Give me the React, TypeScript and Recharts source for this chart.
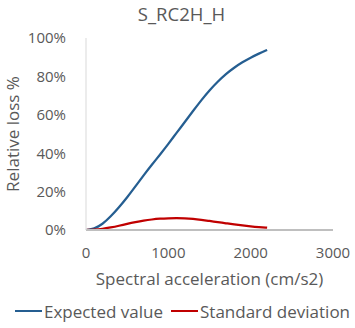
import { Label, Legend, Line, LineChart, XAxis, YAxis } from "recharts";

const accel = [
  0, 100, 200, 300, 400, 500, 600, 700, 800, 900, 1000, 1100, 1200, 1300, 1400,
  1500, 1600, 1700, 1800, 1900, 2000, 2100, 2200,
];
// relative loss in %
const expectedValue = [
  0, 0.6, 3.0, 7.0, 11.8, 17.0, 22.7, 28.5, 34.0, 39.3, 44.8, 50.6, 56.2, 62.0,
  67.6, 72.8, 77.3, 81.3, 84.6, 87.4, 89.8, 91.9, 93.8,
];
const standardDeviation = [
  0, 0.1, 0.5, 1.3, 2.2, 3.2, 4.1, 4.9, 5.5, 5.9, 6.1, 6.2, 6.1, 5.8, 5.3, 4.7,
  4.1, 3.5, 2.9, 2.4, 1.9, 1.5, 1.2,
];
const xTicks = [0, 1000, 2000, 3000];
const yTicks = [0, 0.2, 0.4, 0.6, 0.8, 1];

const seriesNames = ["Expected value", "Standard deviation"];
const seriesColors = ["#255E91", "#C00000"];

const rows = accel.map((a, i) => ({
  accel: a,
  expected: expectedValue[i] / 100,
  std: standardDeviation[i] / 100,
}));

const FONT = "'Open Sans', sans-serif";
const INK = "#595959";

function LegendRow() {
  return (
    <div
      style={{
        display: "flex",
        justifyContent: "center",
        alignItems: "center",
        height: 40,
        paddingTop: 6,
        paddingLeft: 10,
        boxSizing: "border-box",
        fontFamily: FONT,
        fontSize: 17,
        color: INK,
        whiteSpace: "nowrap",
      }}
    >
      {seriesNames.map((name, i) => (
        <div key={name} style={{ display: "flex", alignItems: "center", marginRight: i === 0 ? 8 : 0 }}>
          <span
            style={{
              display: "inline-block",
              width: 27,
              height: 2,
              background: seriesColors[i],
              marginRight: 2,
            }}
          />
          <span>{name}</span>
        </div>
      ))}
    </div>
  );
}

export default function App() {
  return (
    <div style={{ position: "absolute", left: 0, top: 0, width: 355, height: 328, background: "#fff" }}>
      <div
        style={{
          position: "absolute",
          top: 1,
          left: 8,
          width: 347,
          textAlign: "center",
          fontFamily: FONT,
          fontSize: 18.5,
          color: INK,
        }}
      >
        S_RC2H_H
      </div>
      <LineChart
        width={355}
        height={328}
        data={rows}
        margin={{ top: 38, right: 22, bottom: 0, left: 0 }}
      >
        <XAxis
          dataKey="accel"
          type="number"
          domain={[0, 3000]}
          ticks={xTicks}
          height={58}
          tickLine={false}
          tickSize={8}
          tickMargin={9}
          stroke="#BFBFBF"
          strokeWidth={2}
          tick={{ fill: INK, fontSize: 15, fontFamily: FONT }}
        >
          <Label
            value="Spectral acceleration (cm/s2)"
            position="insideBottom"
            offset={3}
            style={{ fill: INK, fontSize: 17, fontFamily: FONT }}
          />
        </XAxis>
        <YAxis
          type="number"
          domain={[0, 1]}
          ticks={yTicks}
          width={86}
          tickLine={false}
          tickSize={8}
          tickMargin={12}
          stroke="#D9D9D9"
          tickFormatter={(v: number) => `${Math.round(v * 100)}%`}
          tick={{ fill: INK, fontSize: 15, fontFamily: FONT }}
        >
          <Label
            value="Relative loss %"
            angle={-90}
            position="center"
            dx={-30}
            style={{ fill: INK, fontSize: 17, fontFamily: FONT, textAnchor: "middle" }}
          />
        </YAxis>
        <Legend
          verticalAlign="bottom"
          height={40}
          wrapperStyle={{ left: 0, width: 355 }}
          content={() => <LegendRow />}
        />
        <Line
          type="basis"
          dataKey="expected"
          name={seriesNames[0]}
          stroke={seriesColors[0]}
          strokeWidth={2.25}
          dot={false}
          isAnimationActive={false}
        />
        <Line
          type="basis"
          dataKey="std"
          name={seriesNames[1]}
          stroke={seriesColors[1]}
          strokeWidth={2.25}
          dot={false}
          isAnimationActive={false}
        />
      </LineChart>
    </div>
  );
}
